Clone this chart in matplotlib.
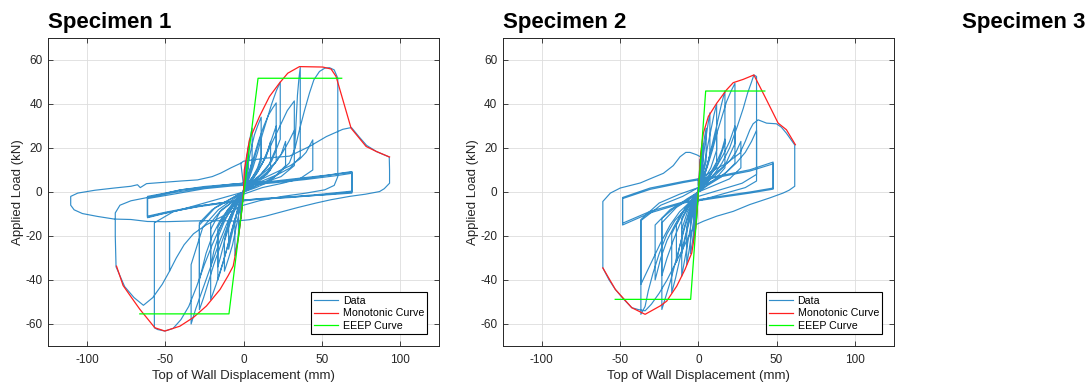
import numpy as np
import matplotlib
matplotlib.use('Agg')
import matplotlib.pyplot as plt

plt.rcParams['font.family'] = ['Liberation Sans', 'DejaVu Sans']
plt.rcParams['axes.unicode_minus'] = False

# ---- Specimen 1 : hysteresis loops (displacement mm, load kN)
s1_loops = [
    [(0, 0), (0.8, 7), (1.6, 13), (1.6, 8), (0.4, 2), (-0.8, -6), (-1.6, -12), (-1.6, -7), (-0.4, -1), (0, 0)],
    [(0, 0), (1, 8), (2.2, 16), (3.2, 21), (3.2, 11), (1.5, 4), (0, 0), (-1, -7), (-2.2, -15), (-3.2, -20),
     (-3.2, -10), (-1.5, -3), (0, 0)],
    [(0, 0), (1, 8), (2.5, 17), (4, 24), (5.5, 29), (5.5, 14), (3.5, 8), (1.5, 3), (0, 0), (-1, -6), (-2.5, -15),
     (-4, -23), (-5.5, -29), (-5.5, -14), (-3.5, -7), (-1.5, -3), (0, 0)],
    [(0, 0), (1.5, 6), (3, 13), (5, 20), (7, 26), (9, 30), (11.3, 34), (11.3, 16), (9, 11), (6, 7), (3, 4), (0, 1),
     (-1.5, -4), (-3, -10), (-5, -17), (-7, -24), (-9.5, -30), (-12.2, -36), (-12.2, -22), (-9, -12), (-5, -6),
     (-2, -2), (0, 0)],
    [(0, 0), (2, 4), (4, 8), (6, 13), (8, 18), (10, 23), (11.3, 26), (11.3, 14), (8, 9), (4, 5), (0, 0),
     (-2, -4), (-4, -9), (-6, -15), (-8, -21), (-9.5, -26), (-9.5, -13), (-5, -6), (0, 0)],
    [(0, 0), (3, 4), (6, 7), (9, 10), (12, 13), (14.5, 16), (17.3, 23), (17.3, 10), (13, 7), (8, 5), (3, 3), (0, 0),
     (-2, -4), (-4, -9), (-7, -16), (-10, -24), (-13, -32), (-16.4, -40), (-16.4, -19), (-12, -11), (-6, -5),
     (-2, -2), (0, 0)],
    [(0, 0), (2, 5), (4, 10), (7, 17), (10, 24), (13, 30), (16, 35), (18.5, 38), (20.9, 40.5), (20.9, 20), (16, 12),
     (10, 7), (4, 3), (0, 0), (-2, -4), (-5, -11), (-8, -19), (-11, -27), (-14, -34), (-17.5, -42), (-21, -49),
     (-21, -17), (-15, -9), (-8, -5), (-2, -2), (0, 0)],
    [(0, 0), (3, 3), (6, 6), (9, 9), (12, 13), (15, 18), (18, 24), (20.9, 30), (20.9, 14), (15, 8), (8, 5),
     (0, 0), (-3, -4), (-6, -9), (-9, -15), (-12, -22), (-14.5, -29), (-16.4, -34), (-16.4, -16), (-10, -8),
     (-4, -3), (0, 0)],
    [(0, 0), (3, 5), (6, 11), (9, 18), (12, 26), (15, 33), (18, 40), (21, 46), (23.5, 50), (23.5, 24), (18, 14),
     (11, 8), (4, 4), (0, 1), (-3, -4), (-7, -10), (-11, -17), (-15, -25), (-19, -33), (-22.5, -41), (-25.5, -48),
     (-28.2, -53.5), (-28.2, -14), (-20, -8), (-10, -4), (-3, -1), (0, 0)],
    [(0, 0), (5, 4), (10, 7), (15, 10), (20, 13), (24, 17), (26.9, 23), (26.9, 12), (20, 7), (12, 4), (4, 2), (0, 0),
     (-4, -4), (-8, -8), (-12, -13), (-16, -20), (-19, -27), (-21, -34), (-21, -14), (-14, -8), (-6, -4), (0, 0)],
    [(0, 0), (4, 4), (8, 8), (12, 13), (16, 19), (20, 25), (24, 31), (28, 37), (32.5, 41.4), (32.5, 18),
     (33.5, 30), (34.5, 44), (35.5, 52), (36.3, 56.6), (36.3, 16), (30, 11), (22, 8), (12, 5), (4, 3), (0, 0),
     (-3, -4), (-7, -9), (-11, -15), (-15, -22), (-19, -30), (-23, -38), (-27, -46), (-30.5, -53), (-33.5, -60),
     (-33.5, -33), (-26, -16), (-16, -8), (-6, -3), (0, 0)],
    [(0, 0), (5, 3), (10, 6), (15, 9), (20, 13), (25, 18), (29, 23), (32.5, 28), (32.5, 12), (24, 7), (12, 4),
     (0, 0), (-5, -4), (-10, -8), (-15, -13), (-20, -20), (-24, -28), (-28.2, -40), (-28.2, -15), (-18, -7),
     (-8, -3), (0, 0)],
    [(0, 0), (6, 3), (12, 6), (18, 8), (24, 10), (30, 12), (36, 15), (40, 18), (44.3, 23.7), (44.3, 10), (36, 6),
     (25, 4), (12, 2), (0, -1), (-5, -5), (-10, -10), (-15, -16), (-20, -24), (-25, -33), (-30, -43), (-35, -52),
     (-40, -58), (-45, -62), (-50.3, -63.2), (-55, -62.5), (-57, -61.7), (-57, -14), (-45, -9), (-30, -6),
     (-15, -3), (0, 0)],
    [(0, 0), (8, 2), (15, 4.2), (22, 8), (29.4, 13.3), (33, 20), (35.8, 28.3), (39, 37), (42.2, 45), (45, 51),
     (48.6, 54.8), (52, 56.3), (55, 56.5), (58, 55.5), (60.3, 51.7), (60.3, 30), (60.3, 7), (58, 3), (52, 1),
     (40, -0.5), (25, -2), (10, -4), (0, -6), (-8, -9), (-16, -12), (-24, -15), (-32, -19), (-38, -24),
     (-43, -30), (-47.3, -36), (-47.3, -18.5), (-47.3, -36), (-52, -42), (-58, -48), (-64, -51.5), (-70, -48),
     (-76, -43), (-81.5, -34), (-82, -20), (-82, -9.5), (-79, -6), (-72, -4), (-61.4, -2.5), (-40, 1),
     (-20, 2.5), (-8, 3.5), (0, 4)],
    [(0, 4), (20, 5), (36, 6.3), (55, 7.8), (69.3, 9.3), (69.3, -0.5), (55, -1.2), (36, -2), (20, -2.8),
     (4, -3.5), (-8, -4.3), (-25, -6), (-40, -8.1), (-52, -10), (-61.4, -11.7), (-61.4, -2), (-50, -0.5),
     (-40, 1), (-25, 2.5), (-8, 3.5), (0, 4)],
    [(0, 3.5), (20, 4.6), (40, 6.2), (60, 8.2), (69.3, 9.0), (69.3, 0), (50, -1.3), (30, -2.5), (10, -3.3),
     (-10, -4.8), (-30, -6.8), (-50, -9.5), (-61.4, -11.4), (-61.4, -2.6), (-45, -0.3), (-25, 2), (-8, 3.2),
     (0, 3.5)],
    [(0, 3), (20, 4.2), (40, 5.7), (60, 7.5), (69.3, 8.5), (69.3, 0.4), (50, -1), (30, -2.2), (10, -3),
     (-10, -4.5), (-30, -6.5), (-50, -9.2), (-61.4, -11), (-61.4, -3), (-45, -1), (-25, 1.5), (-8, 2.7), (0, 3)],
    [(-1.7, 13.1), (0, 14), (14.5, 15.4), (29.4, 16.3), (42.2, 20.7), (53, 25.2), (63.5, 28.5), (69, 29.3),
     (74, 25), (78.7, 21.2), (85, 18.4), (93.2, 15.9), (93.4, 10), (93.4, 4), (90, 1.5), (87, 0.2), (78, -1),
     (67.8, -2), (56, -3.5), (46.5, -5), (35, -7), (25.1, -8.9), (14, -11), (3.8, -12.6), (-5, -13.2),
     (-20, -13), (-35, -13.2), (-50, -13.5), (-61.4, -13.4), (-72, -12.5), (-82.7, -12.3), (-93.4, -11.1),
     (-103, -9.8), (-108.3, -8.1), (-110.5, -6), (-110.5, -2), (-106, -0.5), (-95, 0.8), (-82.7, 1.8),
     (-72, 2.6), (-67.8, 3.3), (-66, 2), (-62, 3.8), (-53, 4.3), (-40, 5), (-29.4, 5.5), (-20, 7),
     (-14.5, 8.6), (-8, 11), (-1.7, 13.1)],
]

s1_mono_x = [-81.2, -77, -71.6, -66.3, -56.7, -50.3, -40.7, -32, -23.7, -15, -9.8, -6.6, -3.4, -1.3, 0,
             0.5, 3.8, 10.2, 16.6, 23, 28.3, 35.8, 50.7, 56, 59.2, 68.8, 78.4, 85, 93.4]
s1_mono_y = [-33.7, -42.5, -48, -53.3, -61.7, -63.2, -61, -57, -51.8, -44.3, -38, -33.7, -21.6, -9.5, 0,
             10, 23.7, 34.3, 43.4, 49.5, 54, 57, 56.8, 55.9, 52.5, 29, 20.7, 18.4, 15.9]
s1_eeep_x = [-66.3, -9.3, 9.3, 62.8]
s1_eeep_y = [-55.4, -55.4, 51.7, 51.7]

# ---- Specimen 2
s2_loops = [
    [(0, 0), (0.6, 8), (1.2, 15), (1.2, 9), (0.3, 2), (-0.6, -7), (-1.2, -14), (-1.2, -8), (-0.3, -1), (0, 0)],
    [(0, 0), (1, 9), (2, 17), (3, 22), (3, 11), (1.2, 4), (0, 0), (-1, -8), (-2, -16), (-3, -22), (-3, -11),
     (-1.2, -4), (0, 0)],
    [(0, 0), (1, 7), (2.5, 17), (4, 25), (5, 29), (5, 14), (3, 8), (1, 3), (0, 0), (-1, -6), (-2.5, -15),
     (-4, -24), (-5, -28), (-5, -13), (-3, -7), (-1, -2), (0, 0)],
    [(0, 0), (1.5, 7), (3, 15), (4.5, 23), (6, 30), (7.4, 36), (7.4, 17), (5, 10), (2.5, 5), (0, 1), (-1.5, -5),
     (-3, -13), (-4.5, -20), (-6, -27), (-7.4, -33), (-7.4, -16), (-5, -9), (-2, -3), (0, 0)],
    [(0, 0), (2, 6), (4, 13), (6, 21), (8, 28), (10, 35), (11.7, 40), (11.7, 19), (8, 11), (4, 6), (0, 1),
     (-2, -5), (-4, -12), (-6, -20), (-8, -28), (-10.6, -38.3), (-10.6, -17), (-7, -9), (-3, -4), (0, 0)],
    [(0, 0), (2, 4), (4, 8), (6, 13), (8, 18), (10, 23), (11.7, 28), (11.7, 13), (7, 7), (3, 3), (0, 0),
     (-2, -4), (-4, -9), (-6, -14), (-8, -20), (-10.6, -28), (-10.6, -12), (-6, -6), (0, 0)],
    [(0, 0), (3, 6), (6, 13), (9, 22), (12, 31), (14.5, 39), (17, 46), (17, 22), (12, 12), (6, 6), (0, 1),
     (-3, -5), (-6, -13), (-9, -22), (-12, -31), (-14.5, -39), (-17, -45.8), (-17, -19), (-11, -10), (-5, -5),
     (0, 0)],
    [(0, 0), (4, 5), (8, 9), (12, 14), (15, 19), (17, 24), (17, 11), (11, 6), (5, 3), (0, 0), (-3, -4), (-6, -9),
     (-9, -16), (-12, -25), (-14, -32), (-14, -15), (-8, -7), (-3, -3), (0, 0)],
    [(0, 0), (3, 6), (6, 12), (9, 19), (12, 27), (15, 34), (18, 41), (21, 46), (23.4, 49.4), (23.4, 22),
     (17, 12), (10, 7), (3, 3), (0, 1), (-3, -4), (-6, -10), (-9, -17), (-12, -25), (-15, -33), (-18, -41),
     (-21, -48), (-23.3, -53.4), (-23.3, -12), (-15, -7), (-7, -3), (0, 0)],
    [(0, 0), (4, 4), (8, 8), (12, 12), (16, 17), (20, 23), (23.4, 30), (23.4, 13), (15, 7), (6, 3), (0, 0),
     (-4, -4), (-8, -9), (-12, -15), (-16, -22), (-20, -30), (-23.3, -38), (-23.3, -14), (-14, -7), (-5, -3),
     (0, 0)],
    [(0, 0), (5, 5), (10, 8), (15, 11), (20, 14), (24, 18), (27.2, 23), (27.2, 11), (20, 6), (10, 3), (0, 0),
     (-5, -4), (-10, -9), (-15, -15), (-20, -22), (-24, -30), (-27.6, -40), (-27.6, -15), (-18, -8), (-8, -4),
     (0, 0)],
    [(0, 0), (5, 4), (10, 8), (15, 13), (20, 20), (25, 30), (28.7, 38), (31.5, 45), (34, 50), (35.5, 53.2),
     (37.2, 52.5), (37.2, 30), (37.2, 5), (30, 2), (20, 0), (10, -2), (0, -4), (-5, -6), (-10, -9), (-15, -13),
     (-20, -19), (-25, -28), (-29, -37), (-32, -45), (-34, -52), (-36.7, -55.6), (-36.7, -12.5), (-25, -5),
     (-12, -1), (0, 2)],
    [(0, 2), (6, 4), (12, 6), (18, 9), (24, 13), (30, 18), (34, 23), (37.2, 28), (37.2, 8), (28, 4), (14, 1),
     (0, -2), (-6, -5), (-12, -9), (-18, -15), (-24, -23), (-30, -32), (-34, -38), (-36.7, -42),
     (-36.7, -13), (-24, -6), (-10, -2), (0, 2)],
    [(0, 6), (11.7, 7.1), (32.9, 10.1), (47.8, 13.6), (47.8, 1.3), (32.9, -0.5), (11.7, -2.7), (-9.6, -5),
     (-30.8, -9.5), (-48.4, -15), (-48.4, -2.5), (-30.8, 1.8), (-9.6, 4.8), (0, 6)],
    [(0, 5.5), (11.7, 6.6), (32.9, 9.5), (47.8, 12.8), (47.8, 1.8), (32.9, 0), (11.7, -2.2), (-9.6, -4.5),
     (-30.8, -8.8), (-48.4, -14.2), (-48.4, -3), (-30.8, 1.2), (-9.6, 4.3), (0, 5.5)],
    [(0, 3), (3.2, 7.1), (10, 10), (18.1, 13.1), (26.6, 17.7), (30, 23), (32.9, 28.2), (35, 31), (38.2, 32.8),
     (43.6, 31.3), (49.9, 31), (53, 29.5), (56.3, 26.7), (61.6, 21.4), (61.6, 10), (61.6, 2.6), (58, 0.8),
     (54.1, -0.5), (45.6, -2.7), (32.9, -5.7), (22.3, -8.8), (11.7, -11), (3.2, -13.3), (-2, -15), (-6, -20),
     (-10, -26), (-15, -33), (-20, -40), (-25, -46), (-30, -51), (-34, -54), (-38, -53.5), (-42.5, -52.6),
     (-48, -48.5), (-53, -44.3), (-57, -40), (-61, -34.5), (-61, -20), (-61, -4.3), (-56.2, -0.5),
     (-49.9, 1.8), (-37.1, 4.1), (-30.8, 6), (-22.3, 8.5), (-16, 12), (-11.7, 16), (-8, 18), (-5.3, 18),
     (-1, 16.9), (1.1, 16.1)],
]

s2_mono_x = [-61, -53, -42.5, -34, -24.4, -20.2, -13.8, -8.5, -4.2, -1.5, 0,
             1.5, 3.2, 6.4, 11.7, 18, 22.3, 28.7, 35.5, 42.5, 51, 56.3, 62]
s2_mono_y = [-34.5, -44.3, -52.6, -55.6, -51.8, -49.6, -42.8, -35.2, -27.7, -15.6, 0,
             17.7, 26.7, 34.3, 40.3, 46.4, 49.7, 51.2, 53.2, 43.4, 31.3, 28.3, 21.5]
s2_eeep_x = [-53.1, -4.9, 4.7, 42.5]
s2_eeep_y = [-48.8, -48.8, 45.9, 45.9]

xticks = [-100, -50, 0, 50, 100]
yticks = [-60, -40, -20, 0, 20, 40, 60]

dark = '#262626'


def draw(ax, loops, mono_x, mono_y, eeep_x, eeep_y, title):
    pts = np.array([p for loop in loops for p in loop])
    ax.plot(pts[:, 0], pts[:, 1], color='#0072BD', lw=0.85, alpha=0.8, label='Data')
    ax.plot(mono_x, mono_y, color='#FF2020', lw=0.9, label='Monotonic Curve')
    ax.plot(eeep_x, eeep_y, color='#00FF00', lw=0.9, label='EEEP Curve')
    ax.set_xlim(-125, 125)
    ax.set_ylim(-70, 70)
    ax.set_xticks(xticks)
    ax.set_yticks(yticks)
    ax.grid(True, color='#dddddd', lw=0.6)
    ax.set_axisbelow(True)
    ax.tick_params(direction='in', top=True, right=True, length=3.5, width=0.6,
                   color=dark, labelcolor=dark, labelsize=8.5)
    ax.tick_params(axis='x', pad=6)
    ax.tick_params(axis='y', pad=4)
    for s in ax.spines.values():
        s.set_color(dark)
        s.set_linewidth(0.7)
    ax.set_xlabel('Top of Wall Displacement (mm)', fontsize=9.5, color=dark, labelpad=3)
    ax.set_ylabel('Applied Load (kN)', fontsize=9.5, color=dark, labelpad=1)
    ax.set_title(title, loc='left', fontsize=16, fontweight='bold', pad=7)
    leg = ax.legend(loc='lower right', fontsize=7.7, frameon=True, fancybox=False, edgecolor='black',
                    framealpha=1, borderpad=0.3, handlelength=2.3, handletextpad=0.4,
                    labelspacing=0.25, borderaxespad=1.1)
    leg.get_frame().set_linewidth(0.8)


fig = plt.figure(figsize=(10.89, 3.85), facecolor='w', dpi=100)
ax1 = fig.add_axes([0.0441, 0.1013, 0.359, 0.80])
ax2 = fig.add_axes([0.4616, 0.1013, 0.3593, 0.80])
draw(ax1, s1_loops, s1_mono_x, s1_mono_y, s1_eeep_x, s1_eeep_y, 'Specimen 1')
draw(ax2, s2_loops, s2_mono_x, s2_mono_y, s2_eeep_x, s2_eeep_y, 'Specimen 2')
fig.text(962 / 1089, (385 - 28) / 385, 'Specimen 3', fontsize=16, fontweight='bold', va='baseline', ha='left')

fig.savefig('out.png', dpi=100)
plt.close(fig)
